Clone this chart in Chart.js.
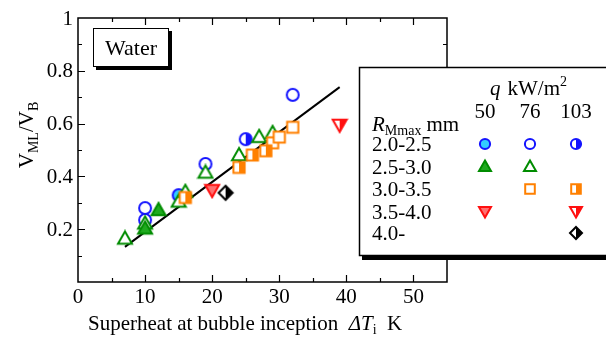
<!DOCTYPE html>
<html>
<head>
<meta charset="utf-8">
<script src="https://cdn.jsdelivr.net/npm/chart.js@4.4.0/dist/chart.umd.min.js"></script>
<style>
  body { margin: 0; background: #fff; }
  #wrap { width: 606px; height: 338px; }
</style>
</head>
<body>
<div id="wrap"><canvas id="bubbleChart" width="606" height="338"></canvas></div>
<script>
// data (x = superheat K, y = VML/VB)
const circle50X = [15];
const circle50Y = [0.329];
const circle76X = [10, 10, 19, 32];
const circle76Y = [0.28, 0.235, 0.447, 0.709];
const circle103X = [25];
const circle103Y = [0.541];

const tri50X = [12, 10];
const tri50Y = [0.273, 0.203];
const tri76X = [7, 10, 15, 16, 19, 24, 27, 29];
const tri76Y = [0.165, 0.222, 0.305, 0.342, 0.415, 0.481, 0.55, 0.565];

const sq76X = [29, 30, 32];
const sq76Y = [0.527, 0.549, 0.586];
const sq103X = [16, 24, 26, 28];
const sq103Y = [0.32, 0.434, 0.481, 0.497];

const down50X = [20];
const down50Y = [0.348];
const down103X = [39];
const down103Y = [0.595];

const diamond103X = [22];
const diamond103Y = [0.338];

const fitX = [7, 39];
const fitY = [0.133, 0.738];

const xTicks = [0, 10, 20, 30, 40, 50];
const xTickLabels = ['0', '10', '20', '30', '40', '50'];
const yTicks = [0.2, 0.4, 0.6, 0.8, 1];
const yTickLabels = ['0.2', '0.4', '0.6', '0.8', '1'];

const qLabels = ['50', '76', '103'];
const rLabels = ['2.0-2.5', '2.5-3.0', '3.0-3.5', '3.5-4.0', '4.0-'];

const SERIF = 'Liberation Serif';

/**
 * pasangkan array x dan y jadi titik
 */
function toPoints(xs, ys) {
    return xs.map((x, i) => ({ x: x, y: ys[i] }));
}

/**
 * path untuk bentuk marker
 */
function markerPath(g, shape, cx, cy, r) {
    g.beginPath();
    if (shape === 'circle') {
        g.arc(cx, cy, r * 0.85, 0, Math.PI * 2);
    } else if (shape === 'up') {
        g.moveTo(cx, cy - r);
        g.lineTo(cx + r, cy + r * 0.75);
        g.lineTo(cx - r, cy + r * 0.75);
        g.closePath();
    } else if (shape === 'down') {
        g.moveTo(cx, cy + r);
        g.lineTo(cx + r, cy - r * 0.75);
        g.lineTo(cx - r, cy - r * 0.75);
        g.closePath();
    } else if (shape === 'square') {
        const s = r * 0.8;
        g.rect(cx - s, cy - s, s * 2, s * 2);
    } else if (shape === 'diamond') {
        g.moveTo(cx, cy - r);
        g.lineTo(cx + r, cy);
        g.lineTo(cx, cy + r);
        g.lineTo(cx - r, cy);
        g.closePath();
    }
}

function drawMarker(g, shape, cx, cy, size, stroke, fill, half) {
    const r = size / 2;
    g.save();
    markerPath(g, shape, cx, cy, r);
    g.fillStyle = '#fff';
    g.fill();
    if (half) {
        g.save();
        g.beginPath();
        g.rect(cx, cy - size, size, size * 2);
        g.clip();
        markerPath(g, shape, cx, cy, r);
        g.fillStyle = stroke;
        g.fill();
        g.restore();
    } else if (fill) {
        g.fillStyle = fill;
        g.fill();
    }
    markerPath(g, shape, cx, cy, r);
    g.lineWidth = 2;
    g.lineJoin = 'miter';
    g.strokeStyle = stroke;
    g.stroke();
    g.restore();
}

/**
 * bikin canvas kecil buat pointStyle
 */
function makeMarker(shape, stroke, fill, half, size) {
    const d = size + 4;
    const c = document.createElement('canvas');
    c.width = d;
    c.height = d;
    drawMarker(c.getContext('2d'), shape, d / 2, d / 2, size, stroke, fill, half);
    return c;
}

const BLUE = '#1414ff', CYAN = '#33ccff';
const GREEN = '#008c00', GREEN_FILL = '#1faa1f';
const ORANGE = '#ff8000';
const RED = '#ff1010', RED_FILL = '#ff7070';

const styles = {
    c50:  ['circle', BLUE, CYAN, false],
    c76:  ['circle', BLUE, null, false],
    c103: ['circle', BLUE, null, true],
    t50:  ['up', GREEN, GREEN_FILL, false],
    t76:  ['up', GREEN, null, false],
    s76:  ['square', ORANGE, null, false],
    s103: ['square', ORANGE, null, true],
    d50:  ['down', RED, RED_FILL, false],
    d103: ['down', RED, null, true],
    k103: ['diamond', '#000', null, true]
};

function pstyle(key, size) {
    const s = styles[key];
    return makeMarker(s[0], s[1], s[2], s[3], size);
}

function scatterSet(label, xs, ys, key, order) {
    return {
        label: label,
        data: toPoints(xs, ys),
        pointStyle: pstyle(key, 14),
        pointRadius: 7,
        order: order
    };
}

/**
 * teks dengan subscript / italic
 */
function drawRuns(ctx, runs, x, y) {
    let cx = x;
    runs.forEach(run => {
        ctx.font = run.font;
        ctx.fillText(run.t, cx, y + (run.dy || 0));
        cx += ctx.measureText(run.t).width + (run.gap || 0);
    });
    return cx;
}

function runsWidth(ctx, runs) {
    let w = 0;
    runs.forEach(run => {
        ctx.font = run.font;
        w += ctx.measureText(run.t).width + (run.gap || 0);
    });
    return w;
}

const f = (size, style) => (style ? style + ' ' : '') + size + 'px "' + SERIF + '", serif';

const decorPlugin = {
    id: 'decor',
    beforeDatasetsDraw(chart) {
        const ctx = chart.ctx;
        const a = chart.chartArea;
        const xs = chart.scales.x, ys = chart.scales.y;
        ctx.save();
        ctx.strokeStyle = '#000';
        ctx.lineWidth = 1.5;
        ctx.strokeRect(a.left, a.top, a.right - a.left, a.bottom - a.top);
        ctx.lineWidth = 1.2;
        ctx.beginPath();
        for (let v = 5; v < 55; v += 5) {
            const px = Math.round(xs.getPixelForValue(v)) + 0.5;
            const len = v % 10 === 0 ? 7 : 4;
            ctx.moveTo(px, a.bottom); ctx.lineTo(px, a.bottom - len);
            ctx.moveTo(px, a.top); ctx.lineTo(px, a.top + len);
        }
        for (let i = 1; i < 10; i++) {
            const py = Math.round(ys.getPixelForValue(i / 10)) + 0.5;
            const len = i % 2 === 0 ? 7 : 4;
            ctx.moveTo(a.left, py); ctx.lineTo(a.left + len, py);
            ctx.moveTo(a.right, py); ctx.lineTo(a.right - len, py);
        }
        ctx.stroke();

        // label tick
        ctx.fillStyle = '#000';
        ctx.font = f(21);
        ctx.textAlign = 'center';
        ctx.textBaseline = 'alphabetic';
        xTicks.forEach((v, i) => ctx.fillText(xTickLabels[i], xs.getPixelForValue(v), 303));
        ctx.textAlign = 'right';
        ctx.textBaseline = 'middle';
        yTicks.forEach((v, i) => ctx.fillText(yTickLabels[i], 73, ys.getPixelForValue(v) + 1));
        ctx.restore();
    },
    afterDraw(chart) {
        const ctx = chart.ctx;
        ctx.save();
        ctx.fillStyle = '#000';
        ctx.textAlign = 'left';
        ctx.textBaseline = 'alphabetic';

        // judul sumbu y
        const yRuns = [
            { t: 'V', font: f(21) },
            { t: 'ML', font: f(14), dy: 5 },
            { t: '/V', font: f(21) },
            { t: 'B', font: f(14), dy: 5 }
        ];
        ctx.save();
        ctx.translate(33, 135);
        ctx.rotate(-Math.PI / 2);
        drawRuns(ctx, yRuns, -runsWidth(ctx, yRuns) / 2, 0);
        ctx.restore();

        // judul sumbu x
        drawRuns(ctx, [
            { t: 'Superheat at bubble inception  ', font: f(21) },
            { t: '\u0394T', font: f(21, 'italic') },
            { t: 'i', font: f(14), dy: 4 },
            { t: '  K', font: f(21) }
        ], 88, 330);

        // kotak "Water"
        ctx.fillStyle = '#000';
        ctx.fillRect(96, 31, 76, 39);
        ctx.fillStyle = '#fff';
        ctx.fillRect(93, 28, 76, 39);
        ctx.strokeStyle = '#000';
        ctx.lineWidth = 1;
        ctx.strokeRect(93.5, 28.5, 75, 38);
        ctx.fillStyle = '#000';
        ctx.font = f(22);
        ctx.textAlign = 'center';
        ctx.fillText('Water', 131, 55);

        // kotak legenda
        ctx.fillRect(362, 70, 250, 190);
        ctx.fillStyle = '#fff';
        ctx.fillRect(359, 67, 250, 189);
        ctx.strokeStyle = '#000';
        ctx.lineWidth = 1.5;
        ctx.strokeRect(359.5, 67.5, 250, 188);

        ctx.fillStyle = '#000';
        ctx.textAlign = 'left';
        drawRuns(ctx, [
            { t: 'q', font: f(21, 'italic'), gap: 7 },
            { t: 'kW/m', font: f(21) },
            { t: '2', font: f(14), dy: -9 }
        ], 490, 95);

        const colX = [485, 530, 576];
        ctx.font = f(21);
        ctx.textAlign = 'center';
        qLabels.forEach((q, i) => ctx.fillText(q, colX[i], 118));

        ctx.textAlign = 'left';
        drawRuns(ctx, [
            { t: 'R', font: f(21, 'italic') },
            { t: 'Mmax', font: f(14), dy: 4, gap: 5 },
            { t: 'mm', font: f(21) }
        ], 372, 131);

        const rowY = [144, 166.5, 189, 211.5, 233];
        ctx.font = f(21);
        rLabels.forEach((r, i) => ctx.fillText(r, 372, rowY[i] + 7));

        const legendMarks = [
            ['c50', 0, 0], ['c76', 1, 0], ['c103', 2, 0],
            ['t50', 0, 1], ['t76', 1, 1],
            ['s76', 1, 2], ['s103', 2, 2],
            ['d50', 0, 3], ['d103', 2, 3],
            ['k103', 2, 4]
        ];
        legendMarks.forEach(m => {
            const s = styles[m[0]];
            drawMarker(ctx, s[0], colX[m[1]], rowY[m[2]], 12, s[1], s[2], s[3]);
        });
        ctx.restore();
    }
};

function initChart() {
    const canvas = document.getElementById('bubbleChart');
    const ctx = canvas.getContext('2d');

    new Chart(ctx, {
        type: 'scatter',
        data: {
            datasets: [
                {
                    label: 'fit',
                    type: 'line',
                    data: toPoints(fitX, fitY),
                    borderColor: '#000',
                    borderWidth: 2,
                    pointRadius: 0,
                    showLine: true,
                    order: 99
                },
                scatterSet('2.0-2.5 q50', circle50X, circle50Y, 'c50', 5),
                scatterSet('2.0-2.5 q76', circle76X, circle76Y, 'c76', 6),
                scatterSet('2.0-2.5 q103', circle103X, circle103Y, 'c103', 5),
                scatterSet('2.5-3.0 q50', tri50X, tri50Y, 't50', 3),
                scatterSet('2.5-3.0 q76', tri76X, tri76Y, 't76', 4),
                scatterSet('3.0-3.5 q76', sq76X, sq76Y, 's76', 2),
                scatterSet('3.0-3.5 q103', sq103X, sq103Y, 's103', 1),
                scatterSet('3.5-4.0 q50', down50X, down50Y, 'd50', 1),
                scatterSet('3.5-4.0 q103', down103X, down103Y, 'd103', 1),
                scatterSet('4.0- q103', diamond103X, diamond103Y, 'k103', 1)
            ]
        },
        options: {
            responsive: false,
            animation: false,
            devicePixelRatio: 1,
            layout: {
                padding: { top: 18, right: 159, left: 0, bottom: 0 }
            },
            plugins: {
                legend: { display: false },
                tooltip: { enabled: false }
            },
            scales: {
                x: {
                    type: 'linear',
                    min: 0,
                    max: 55,
                    afterFit: s => { s.height = 56; },
                    grid: { display: false },
                    border: { display: false },
                    ticks: { display: false }
                },
                y: {
                    type: 'linear',
                    min: 0,
                    max: 1,
                    afterFit: s => { s.width = 78; },
                    grid: { display: false },
                    border: { display: false },
                    ticks: { display: false }
                }
            }
        },
        plugins: [decorPlugin]
    });
}

document.addEventListener('DOMContentLoaded', initChart);
</script>
</body>
</html>
